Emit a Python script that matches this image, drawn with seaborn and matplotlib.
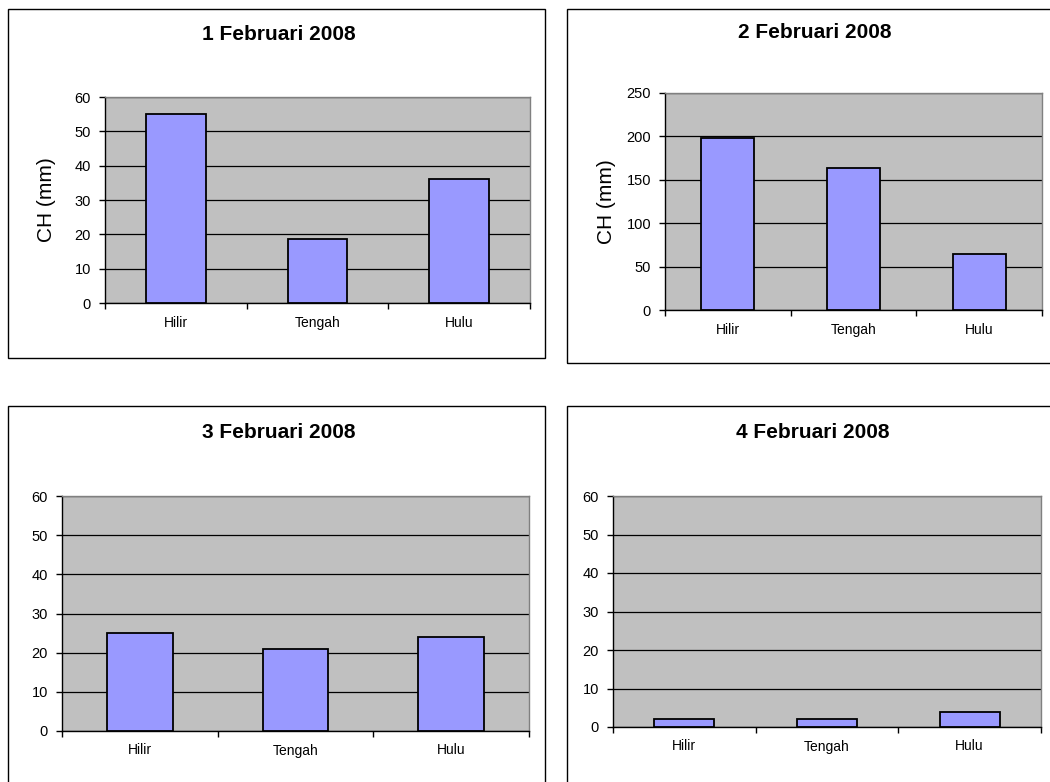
import matplotlib
matplotlib.use("Agg")
import matplotlib.pyplot as plt
from matplotlib.patches import Rectangle
import seaborn as sns
import pandas as pd

# Rainfall (CH, mm) per river section for four days
lokasi = ["Hilir", "Tengah", "Hulu"]
ch_1feb = [55, 18.5, 36]
ch_2feb = [198, 164, 65]
ch_3feb = [25, 21, 24]
ch_4feb = [2, 2, 4]

judul = ["1 Februari 2008", "2 Februari 2008", "3 Februari 2008", "4 Februari 2008"]
batas_y = [(60, 10), (250, 50), (60, 10), (60, 10)]
label_y = ["CH (mm)", "CH (mm)", None, None]

sns.set_theme(style="white")
plt.rcParams["font.family"] = ["Liberation Sans", "DejaVu Sans"]

W, H = 1050, 782
fig = plt.figure(figsize=(W / 100, H / 100), dpi=100)
fig.patch.set_facecolor("white")


def px_rect(x0, y0, x1, y1):
    """Convert a pixel box (top-left origin) to figure fractions."""
    return [x0 / W, 1 - y1 / H, (x1 - x0) / W, (y1 - y0) / H]


# panel frames (chart areas)
frames = [(8, 9, 545, 358), (567, 9, 1070, 363), (8, 406, 545, 800), (567, 406, 1070, 800)]
for x0, y0, x1, y1 in frames:
    fig.patches.append(Rectangle((x0 / W, 1 - y1 / H), (x1 - x0) / W, (y1 - y0) / H,
                                 transform=fig.transFigure, fill=False,
                                 edgecolor="black", linewidth=1.0))

# plot areas
plot_boxes = [(105, 97, 530, 303), (665, 93, 1042, 310), (62, 496, 529, 731), (613, 496, 1041, 727)]
title_pos = [(279, 35), (815, 33), (279, 433), (813, 433)]
ylabel_x = [47, 607]

data_sets = [ch_1feb, ch_2feb, ch_3feb, ch_4feb]

for i, (vals, box) in enumerate(zip(data_sets, plot_boxes)):
    ax = fig.add_axes(px_rect(*box))
    df = pd.DataFrame({"lokasi": lokasi, "ch": vals})
    sns.barplot(data=df, x="lokasi", y="ch", order=lokasi, ax=ax, color="#9999ff",
                saturation=1, edgecolor="black", linewidth=1.3, width=0.42, zorder=3)
    ax.set_facecolor("#c0c0c0")
    ymax, step = batas_y[i]
    ax.set_ylim(0, ymax)
    ax.set_xlim(-0.5, 2.5)
    ax.set_yticks(range(0, ymax + 1, step))
    ax.yaxis.grid(True, color="black", linewidth=0.9, zorder=1)
    ax.xaxis.grid(False)
    ax.set_axisbelow(True)
    ax.set_xlabel("")
    ax.set_ylabel("")
    for s in ["top", "right"]:
        ax.spines[s].set_color("#808080")
        ax.spines[s].set_linewidth(1.0)
    for s in ["left", "bottom"]:
        ax.spines[s].set_color("black")
        ax.spines[s].set_linewidth(1.0)
    ax.set_xticks([-0.5, 0.5, 1.5, 2.5], minor=True)
    ax.tick_params(axis="x", which="major", length=0, pad=9, labelsize=10, colors="black")
    ax.tick_params(axis="x", which="minor", length=4, width=1, direction="out", color="black", bottom=True)
    ax.tick_params(axis="y", which="major", length=4, width=1, direction="out", left=True,
                   labelsize=10.5, colors="black", pad=6)

    tx, ty = title_pos[i]
    fig.text(tx / W, 1 - ty / H, judul[i], ha="center", va="center",
             fontsize=15, fontweight="bold", color="black")
    if label_y[i]:
        cy = (box[1] + box[3]) / 2
        fig.text(ylabel_x[i] / W, 1 - cy / H, label_y[i], rotation=90,
                 ha="center", va="center", fontsize=15, color="black")

fig.savefig("out.png", dpi=100, facecolor="white")
